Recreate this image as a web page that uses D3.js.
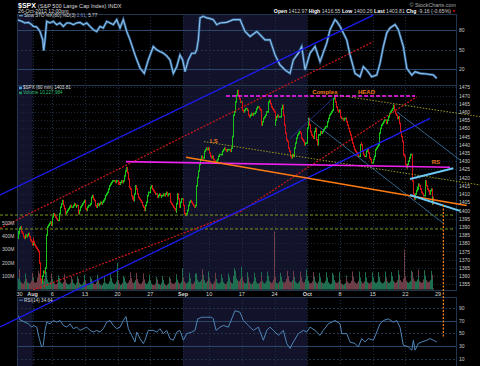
<!DOCTYPE html>
<html>
<head>
<meta charset="utf-8">
<script src="https://cdn.jsdelivr.net/npm/d3@7"></script>
<style>
  body { margin: 0; background: #000; }
  text { font-family: "Liberation Sans", Arial, sans-serif; }
</style>
</head>
<body>
<svg id="chart" width="480" height="366"></svg>
<script>
'use strict'

// ---- data: 60 minute bars, one string of 7 hourly closes per trading day ----
var days = ['Jul 27', 'Jul 30', 'Jul 31', 'Aug 1', 'Aug 2', 'Aug 3', 'Aug 6', 'Aug 7', 'Aug 8', 'Aug 9', 'Aug 10',
  'Aug 13', 'Aug 14', 'Aug 15', 'Aug 16', 'Aug 17', 'Aug 20', 'Aug 21', 'Aug 22', 'Aug 23', 'Aug 24',
  'Aug 27', 'Aug 28', 'Aug 29', 'Aug 30', 'Aug 31', 'Sep 4', 'Sep 5', 'Sep 6', 'Sep 7',
  'Sep 10', 'Sep 11', 'Sep 12', 'Sep 13', 'Sep 14', 'Sep 17', 'Sep 18', 'Sep 19', 'Sep 20', 'Sep 21',
  'Sep 24', 'Sep 25', 'Sep 26', 'Sep 27', 'Sep 28', 'Oct 1', 'Oct 2', 'Oct 3', 'Oct 4', 'Oct 5',
  'Oct 8', 'Oct 9', 'Oct 10', 'Oct 11', 'Oct 12', 'Oct 15', 'Oct 16', 'Oct 17', 'Oct 18', 'Oct 19',
  'Oct 22', 'Oct 23', 'Oct 24', 'Oct 25', 'Oct 26']

var closes = [
  '1366 1372 1378 1380 1383 1387 1386', '1389 1390 1387 1386 1384 1383 1385', '1384 1385 1386 1384 1382 1381 1379',
  '1383 1381 1379 1378 1377 1376 1375', '1368 1358 1356 1360 1363 1362 1365', '1385 1389 1390 1391 1392 1393 1391',
  '1396 1398 1397 1396 1395 1394 1394', '1398 1402 1404 1405 1406 1403 1401', '1398 1399 1400 1401 1402 1403 1402',
  '1402 1403 1404 1403 1402 1403 1403', '1398 1400 1402 1403 1404 1405 1406', '1401 1400 1402 1403 1403 1404 1404',
  '1408 1409 1407 1406 1403 1402 1404', '1403 1404 1405 1404 1405 1406 1406', '1407 1409 1410 1411 1413 1415 1416',
  '1417 1418 1418 1418 1417 1418 1418', '1416 1417 1416 1417 1418 1417 1418', '1421 1424 1426 1423 1419 1414 1413',
  '1409 1407 1408 1406 1410 1415 1413', '1410 1408 1407 1406 1405 1403 1402', '1400 1403 1405 1407 1409 1411 1411',
  '1414 1415 1413 1412 1411 1410 1410', '1408 1409 1410 1409 1408 1409 1409', '1410 1409 1410 1411 1409 1410 1410',
  '1405 1404 1403 1402 1401 1400 1399', '1404 1410 1407 1402 1405 1407 1407', '1403 1398 1397 1398 1400 1403 1405',
  '1405 1406 1405 1404 1403 1402 1403', '1415 1420 1424 1428 1431 1433 1432', '1432 1434 1436 1437 1438 1437 1438',
  '1435 1433 1432 1433 1431 1430 1429', '1430 1431 1432 1433 1434 1434 1434', '1436 1437 1438 1437 1436 1437 1437',
  '1437 1436 1438 1445 1455 1458 1460', '1466 1470 1473 1470 1468 1466 1466', '1461 1460 1461 1462 1462 1461 1461',
  '1458 1457 1458 1459 1458 1459 1459', '1460 1462 1463 1463 1462 1461 1461', '1452 1454 1456 1457 1458 1460 1460',
  '1466 1467 1465 1463 1462 1461 1460', '1452 1455 1457 1458 1457 1457 1457', '1462 1464 1458 1452 1447 1443 1442',
  '1438 1436 1435 1433 1432 1434 1433', '1438 1441 1444 1446 1447 1448 1447', '1444 1443 1442 1441 1440 1441 1441',
  '1450 1456 1452 1448 1446 1445 1444', '1448 1450 1443 1440 1443 1446 1446', '1448 1447 1448 1449 1450 1451 1451',
  '1454 1456 1458 1459 1460 1461 1461', '1468 1470 1466 1463 1461 1460 1461', '1457 1456 1456 1455 1456 1456 1456',
  '1454 1452 1450 1448 1446 1443 1441', '1439 1437 1436 1435 1434 1433 1433', '1440 1441 1440 1436 1434 1433 1433',
  '1436 1437 1435 1432 1431 1429 1429', '1431 1433 1435 1437 1438 1439 1440', '1447 1450 1452 1453 1454 1455 1455',
  '1453 1455 1457 1458 1459 1460 1461', '1462 1464 1461 1459 1458 1456 1457', '1453 1448 1445 1442 1438 1434 1433',
  '1428 1426 1428 1430 1432 1434 1434', '1418 1410 1407 1410 1412 1414 1413', '1416 1415 1413 1411 1410 1409 1409',
  '1418 1415 1413 1412 1410 1412 1413', '1404 1408 1404'
]

// hourly volume, millions
var volumes = [
  '110 70 60 55 60 80 150', '85 60 50 45 45 60 120', '80 55 50 45 50 65 125', '95 65 55 50 55 90 140',
  '120 85 70 60 65 80 150', '130 75 60 55 50 60 120', '80 50 45 40 40 50 105', '85 55 45 40 45 55 115',
  '75 50 40 35 40 50 100', '75 50 40 35 40 50 100', '80 50 40 35 40 55 110', '70 45 35 35 35 50 95',
  '80 55 45 40 40 55 110', '70 45 35 30 35 50 95', '80 50 45 40 45 60 115', '85 55 45 40 45 60 200',
  '70 45 40 35 40 50 100', '90 60 50 45 55 70 130', '85 55 45 45 55 70 125', '80 55 45 40 45 60 120',
  '75 50 40 40 45 60 110', '70 45 35 35 35 45 95', '75 45 40 35 40 50 100', '70 45 35 30 35 45 95',
  '80 50 45 40 45 55 115', '110 75 55 45 45 60 160', '90 60 50 45 50 60 125', '85 55 45 40 45 60 120',
  '120 75 60 55 60 75 150', '110 70 55 50 55 65 135', '85 55 45 40 45 60 125', '80 50 45 40 45 55 115',
  '85 55 45 40 45 60 120', '90 60 50 45 100 95 160', '140 85 70 60 65 80 170', '95 60 50 45 50 65 130',
  '90 55 45 40 45 60 125', '90 55 45 45 50 60 130', '100 65 50 45 50 65 135', '100 65 55 50 55 75 435',
  '95 60 50 45 50 60 125', '95 60 55 50 60 80 140', '100 65 55 50 55 70 140', '95 60 50 45 50 65 135',
  '90 60 50 45 55 75 150', '100 65 50 45 50 60 130', '95 60 50 45 50 60 125', '90 55 50 45 50 65 130',
  '90 55 45 40 45 60 125', '110 70 55 50 50 60 130', '75 45 40 35 40 50 105', '90 60 50 45 50 65 135',
  '95 60 50 45 50 65 135', '90 60 50 45 50 60 130', '90 55 50 45 50 60 130', '90 60 50 45 50 60 130',
  '95 60 50 45 50 60 135', '90 60 50 45 50 60 130', '100 65 55 50 55 70 145', '110 70 60 55 65 80 300',
  '100 65 55 50 55 65 140', '130 85 65 60 60 75 150', '100 65 55 50 55 75 145', '105 70 60 55 60 70 140',
  '110 75 10'
]

// Slow STO %K(80) (day number, value)
var stoDay = [0.62, 1.34, 1.84, 2.35, 2.87, 3.11, 3.63, 4.13, 4.55, 4.70, 4.90, 5.16, 5.66, 6.17, 6.69, 7.19, 7.70,
  8.22, 8.72, 9.23, 9.75, 10.25, 10.76, 11.28, 11.78, 12.28, 12.80, 13.31, 13.81, 14.33, 14.84, 15.34, 15.86, 16.37,
  16.87, 17.39, 17.90, 18.66, 19.42, 20.08, 20.69, 21.46, 21.98, 22.48, 22.99, 23.51, 24.01, 24.52, 25.04, 25.54,
  25.95, 26.31, 26.81, 27.33, 27.83, 28.09, 28.34, 28.60, 29.10, 29.62, 30.13, 30.63, 31.15, 31.66, 32.68, 33.69,
  34.72, 35.48, 36.25, 37.27, 37.77, 38.54, 39.30, 40.07, 40.83, 41.60, 42.36, 42.87, 43.63, 44.15, 44.66, 45.42,
  46.19, 46.95, 47.97, 48.48, 49.24, 49.50, 50.01, 50.51, 51.03, 51.53, 52.30, 53.06, 53.57, 54.09, 54.85, 55.62,
  56.12, 56.63, 57.15, 57.65, 58.42, 58.92, 59.69, 60.21, 60.98, 61.48, 62.25, 63.27, 64.29, 64.79]
var stoVal = [95.8, 93.2, 90.8, 91.7, 88.2, 85.5, 84.6, 77.8, 65, 48.6, 65, 93.2, 90.8, 93.2, 88.2, 90.8, 85.5,
  90.8, 90.8, 88.2, 90.8, 91.7, 88.2, 90.8, 85.5, 80.5, 77.8, 85.5, 83.1, 93.2, 90.8, 88.2, 95.8, 83.1,
  95.8, 77.8, 65, 42, 22, 13.8, 34.3, 54.8, 49.7, 47.1, 44.6, 40.5, 34.3, 13.8, 24, 42,
  34.3, 16.3, 34.3, 44.6, 44.6, 49.7, 65, 98.5, 100.9, 98.5, 97.4, 95.8, 88.2, 90.8, 91.7, 95.8,
  95.8, 77.8, 70.2, 77.8, 72.8, 65, 65, 42, 26.6, 19, 13.8, 34.3, 44.6, 54.8, 18.9, 44.6,
  54.8, 31.7, 60, 80.5, 95.8, 93.2, 85.5, 75.4, 65, 42, 13.8, 8.6, 24, 18.9, 8.6, 11.2,
  29.2, 54.8, 75.4, 83.1, 88.2, 80.5, 54.8, 21.5, 11.2, 16.3, 13.8, 12.8, 11.2, 6.2]

// RSI(14)
var rsiDay = [0.82, 1.08, 1.84, 2.35, 2.87, 3.11, 3.63, 4.03, 4.39, 4.64, 4.90, 5.16, 5.66, 6.17, 6.69, 7.19, 7.70,
  8.22, 8.72, 9.23, 9.75, 10.25, 10.76, 11.28, 11.78, 12.28, 12.80, 13.31, 13.81, 14.33, 14.84, 15.34, 15.86, 16.37,
  16.87, 17.28, 17.64, 18.16, 18.66, 18.92, 19.42, 19.93, 20.19, 20.69, 21.46, 21.98, 22.48, 22.99, 23.51, 24.01,
  24.52, 25.04, 25.54, 26.05, 26.57, 27.33, 27.83, 28.25, 28.86, 29.62, 30.39, 30.63, 31.05, 31.66, 32.16, 32.93,
  33.45, 33.95, 34.72, 35.22, 35.98, 36.75, 37.51, 38.28, 38.80, 39.30, 39.81, 40.57, 41.34, 41.86, 42.36, 42.87,
  43.63, 44.40, 44.92, 45.42, 46.19, 46.95, 47.45, 48.22, 49.24, 50.01, 50.27, 51.03, 51.53, 52.30, 52.80, 53.32,
  53.83, 54.33, 55.10, 55.62, 56.12, 56.63, 57.39, 58.16, 58.67, 59.17, 59.69, 60.45, 60.98, 61.22, 61.48, 61.98,
  62.50, 63.27, 63.77, 64.29, 64.79]
var rsiVal = [77.7, 71.1, 67.4, 64.9, 59.7, 62.3, 59.7, 41.8, 28.9, 31.5, 54.6, 67.4, 64.9, 70, 67.4, 70, 62.3,
  59.7, 64.9, 57.2, 59.7, 54.6, 57.2, 59.7, 54.6, 52, 54.6, 52, 57.2, 67.4, 70, 62.3, 57.2, 59.7,
  70, 76.2, 57.2, 46.9, 36.6, 52, 41.8, 34.1, 39.2, 54.6, 54.6, 52, 57.2, 49.5, 54.6, 41.8,
  39.2, 52, 54.6, 39.2, 49.5, 52, 54.6, 72.6, 75.1, 75.1, 75.1, 72.6, 54.6, 59.7, 62.3, 59.7,
  72.6, 85.4, 82.8, 70, 62.3, 54.6, 59.7, 39.2, 54.6, 59.7, 54.6, 46.9, 54.6, 34.1, 26.5, 36.6,
  49.5, 54.6, 52, 59.7, 54.6, 46.9, 54.6, 64.9, 70, 64.9, 49.5, 49.5, 36.6, 34.1, 28.9, 41.8,
  36.6, 41.8, 39.2, 52, 64.9, 70, 72.6, 67.4, 70, 59.7, 31.5, 28.9, 23.8, 39.2, 23.8, 34.1,
  36.6, 39.2, 41.8, 39.2, 36.6]

// x axis labels and the day they sit on
var tickLabels = ['30', 'Aug', '6', '13', '20', '27', 'Sep', '10', '17', '24', 'Oct', '8', '15', '22', '29']
var tickDays = [1, 3, 6, 11, 16, 21, 26, 30, 35, 40, 45, 50, 55, 60, 65]
var monthLabels = ['Aug', 'Sep', 'Oct']
var priceTicks = d3.range(1355, 1476, 5)
var stoTicks = [20, 50, 80]
var rsiTicks = [10, 30, 50, 70, 90]
// shaded months (July, September) as day ranges
var shadedMonths = [[0, 3], [26, 45]]

// hand drawn annotations, [day, price] end points
var blueUpper = [[-1.98, 1409.4], [55.1, 1519.0]]
var blueLower = [[-1.98, 1329.0], [63.77, 1456.1]]
var redUpper = [[-1.98, 1389.1], [55.1, 1502.8]]
var redLowerA = [[3.11, 1351.5], [34.72, 1399.2]]
var redLowerB = [[34.72, 1399.2], [61.73, 1469.3]]
var neckline = [[17.29, 1429.7], [66.83, 1426.3]]
var headLine = [[32.58, 1469.7], [61.48, 1469.7]]
var orangeLine = [[26.46, 1432.4], [69.38, 1403.0]]
var wedgeTop = [[60.71, 1419.1], [67.33, 1425.7]]
var wedgeBottom = [[60.71, 1409.4], [68.35, 1399.7]]
var thinBlueA = [[45.14, 1456.1], [65.8, 1392.2]]
var thinBlueB = [[58.67, 1460.1], [68.35, 1430.7]]
var navyRise = [[42.36, 1443.9], [49.5, 1470.3]]
var oliveUpper = [[49.5, 1470.3], [71.41, 1457.1]]
var oliveLower = [[29.21, 1441.9], [71.41, 1415.5]]
var greenLevels = [1397.2, 1388.7]
var greenSpan = [-1.98, 67.6]
var targetLine = [[65.8, 1403.3], [65.8, 1322.3]]
var patternLabels = [['Complex', 45.74, 1471.2], ['HEAD', 52.76, 1471.2], ['LS', 30.13, 1441.3], ['RS', 64.03, 1428.5]]

// ---- layout ----
var svg = d3.select('#chart')
var left = 17
var right = 456
var stoPane = [14, 85]
var mainPane = [85, 290]
var rsiPane = [297, 366]

var x = d3.scaleLinear().domain([1, 65]).range([19.5, 438.1])
var y = d3.scaleLinear().domain([1355, 1475]).range([284.3, 87.3])
var yVol = d3.scaleLinear().domain([0, 500]).range([289.5, 222.7])
var ySto = d3.scaleLinear().domain([20, 80]).range([69.3, 30])
var yRsi = d3.scaleLinear().domain([10, 90]).range([359, 307.7])

var bars = []
closes.forEach(function (s, d) {
  var cs = s.split(' ').map(Number)
  var vs = volumes[d].split(' ').map(Number)
  cs.forEach(function (c, i) {
    var o = bars.length ? bars[bars.length - 1].c : c - 2
    bars.push({ t: d + (i + 0.5) / 7, o: o, c: c, v: vs[i] })
  })
})
bars = bars.filter(function (b) { return x(b.t) >= left + 0.5 })

// pane backgrounds and month shading
var panes = [stoPane, mainPane, rsiPane]
panes.forEach(function (p) {
  svg.append('g').selectAll('rect').data(shadedMonths).join('rect')
    .attr('x', function (m) { return Math.max(left, x(m[0])) })
    .attr('width', function (m) { return x(m[1]) - Math.max(left, x(m[0])) })
    .attr('y', p[0]).attr('height', p[1] - p[0])
    .attr('fill', '#12122a')
})

// vertical grid
panes.forEach(function (p) {
  svg.append('g').selectAll('line').data(tickDays.slice(1, -1)).join('line')
    .attr('x1', function (d) { return Math.round(x(d)) + 0.5 }).attr('x2', function (d) { return Math.round(x(d)) + 0.5 })
    .attr('y1', p[0]).attr('y2', p[1])
    .attr('stroke', '#1e2e44').attr('stroke-dasharray', '1,2')
})

// horizontal grid
svg.append('g').selectAll('line').data(priceTicks).join('line')
  .attr('x1', left).attr('x2', right)
  .attr('y1', function (d) { return Math.round(y(d)) + 0.5 }).attr('y2', function (d) { return Math.round(y(d)) + 0.5 })
  .attr('stroke', '#1a283a').attr('stroke-dasharray', '1,2')
svg.append('g').selectAll('line').data(stoTicks).join('line')
  .attr('x1', left).attr('x2', right)
  .attr('y1', function (d) { return Math.round(ySto(d)) + 0.5 }).attr('y2', function (d) { return Math.round(ySto(d)) + 0.5 })
  .attr('stroke', function (d) { return d === 50 ? '#22344c' : '#2a4668' })
  .attr('stroke-dasharray', function (d) { return d === 50 ? '2,2' : null })
svg.append('g').selectAll('line').data(rsiTicks).join('line')
  .attr('x1', left).attr('x2', right)
  .attr('y1', function (d) { return Math.round(yRsi(d)) + 0.5 }).attr('y2', function (d) { return Math.round(yRsi(d)) + 0.5 })
  .attr('stroke', function (d) { return d === 30 || d === 70 ? '#2a4668' : '#22344c' })
  .attr('stroke-dasharray', function (d) { return d === 30 || d === 70 ? null : '2,2' })

// volume
svg.append('g').selectAll('rect').data(bars).join('rect')
  .attr('x', function (b) { return Math.floor(x(b.t)) })
  .attr('width', 1)
  .attr('y', function (b) { return yVol(b.v) })
  .attr('height', function (b) { return yVol(0) - yVol(b.v) })
  .attr('fill', function (b) { return b.c >= b.o ? '#1f6e50' : '#6e3e48' })

// candles
svg.append('g').selectAll('rect').data(bars).join('rect')
  .attr('x', function (b) { return Math.floor(x(b.t)) })
  .attr('width', 1)
  .attr('y', function (b) { return y(Math.max(b.o, b.c)) - 0.8 })
  .attr('height', function (b) { return Math.max(1.6, Math.abs(y(b.o) - y(b.c)) + 1.6) })
  .attr('fill', function (b) { return b.c >= b.o ? '#19c419' : '#d41414' })

// indicator lines
var stoLine = d3.line().x(function (d) { return x(d[0]) }).y(function (d) { return ySto(d[1]) })
svg.append('path').datum(d3.zip(stoDay, stoVal)).attr('d', stoLine)
  .attr('fill', 'none').attr('stroke', '#2d5a86').attr('stroke-width', 2.6)
svg.append('path').datum(d3.zip(stoDay, stoVal)).attr('d', stoLine)
  .attr('fill', 'none').attr('stroke', '#8cc0ec').attr('stroke-width', 1.1)
var rsiLine = d3.line().x(function (d) { return x(d[0]) }).y(function (d) { return yRsi(d[1]) })
svg.append('path').datum(d3.zip(rsiDay, rsiVal)).attr('d', rsiLine)
  .attr('fill', 'none').attr('stroke', '#4f86b8').attr('stroke-width', 1)

// pane frames
panes.forEach(function (p) {
  svg.append('rect').attr('x', left + 0.5).attr('y', p[0] + 0.5)
    .attr('width', right - left).attr('height', p[1] - p[0])
    .attr('fill', 'none').attr('stroke', '#20364f')
})

// annotations
var seg = d3.line().x(function (d) { return x(d[0]) }).y(function (d) { return y(d[1]) })
function trend (pts, color, w, dash) {
  svg.append('path').datum(pts).attr('d', seg)
    .attr('fill', 'none').attr('stroke', color).attr('stroke-width', w)
    .attr('stroke-dasharray', dash)
}
greenLevels.forEach(function (p) { trend([[greenSpan[0], p], [greenSpan[1], p]], '#7a9a1e', 1, '3,2') })
trend(oliveUpper, '#9a9a22', 1, '1.5,1.5')
trend(oliveLower, '#9a9a22', 1, '1.5,1.5')
trend(thinBlueA, '#3d7fae', 0.8)
trend(thinBlueB, '#3d7fae', 0.8)
trend(navyRise, '#2a3aa0', 0.8)
trend(redUpper, '#d01818', 1.2, '2,1.5')
trend(redLowerA, '#d01818', 1.2, '2,1.5')
trend(redLowerB, '#d01818', 1.2, '2,1.5')
trend(blueUpper, '#1c1cf0', 1.4)
trend(blueLower, '#1c1cf0', 1.4)
trend(neckline, '#ee22ee', 1.6)
trend(headLine, '#ff22ff', 1.6, '4,2')
trend(orangeLine, '#ff7a10', 1.6)
trend(wedgeTop, '#6cc8f4', 2)
trend(wedgeBottom, '#6cc8f4', 2)
trend(targetLine, '#ff8a1a', 1.2, '2,1.5')

svg.append('g').selectAll('text').data(patternLabels).join('text')
  .attr('x', function (d) { return x(d[1]) }).attr('y', function (d) { return y(d[2]) })
  .attr('fill', '#f07a20').attr('font-size', 6).attr('font-weight', 'bold')
  .text(function (d) { return d[0] })

// right axes
function rightAxis (scale, ticks) {
  var g = svg.append('g').attr('transform', 'translate(458,0)')
    .call(d3.axisRight(scale).tickValues(ticks).tickSize(0).tickPadding(1).tickFormat(d3.format('d')))
  g.select('.domain').remove()
  g.selectAll('text').attr('fill', '#c8c8c8').attr('font-size', 5).attr('font-family', '"Liberation Sans", Arial, sans-serif')
}
rightAxis(y, priceTicks)
rightAxis(ySto, stoTicks)
rightAxis(yRsi, rsiTicks)

// volume axis on the left
svg.append('g').selectAll('text').data([100, 200, 300, 400, 500]).join('text')
  .attr('x', 2).attr('y', function (d) { return yVol(d) + 1.8 })
  .attr('fill', '#c8c8c8').attr('font-size', 5)
  .text(function (d) { return d + 'M' })

// time axis
svg.append('g').selectAll('text').data(tickLabels).join('text')
  .attr('x', function (d, i) { return x(tickDays[i]) }).attr('y', 296)
  .attr('text-anchor', 'middle').attr('fill', '#d8d8d8').attr('font-size', 5.5)
  .attr('font-weight', function (d) { return monthLabels.indexOf(d) >= 0 ? 'bold' : null })
  .text(function (d) { return d })

// titles and legends
var head = svg.append('text').attr('x', 18).attr('y', 7.5).attr('fill', '#fff').attr('font-size', 7)
head.append('tspan').attr('font-weight', 'bold').text('$SPX ')
head.append('tspan').attr('font-size', 5.6).attr('fill', '#ddd').text('(S&P 500 Large Cap Index) INDX')
svg.append('text').attr('x', 18).attr('y', 12.6).attr('fill', '#ddd').attr('font-size', 5.2).text('26-Oct-2012 12:00pm')
svg.append('text').attr('x', 456).attr('y', 7.3).attr('text-anchor', 'end').attr('fill', '#aaa').attr('font-size', 5.4).text('\u00a9 StockCharts.com')

var quote = svg.append('text').attr('x', 451).attr('y', 12.6).attr('text-anchor', 'end').attr('font-size', 5.2).attr('fill', '#ccc')
;[['Open', '1412.97'], ['High', '1416.55'], ['Low', '1400.26'], ['Last', '1403.81'], ['Chg', '-9.16 (-0.65%)']].forEach(function (q, i) {
  quote.append('tspan').attr('font-weight', 'bold').attr('fill', '#fff').text((i ? '  ' : '') + q[0] + ' ')
  quote.append('tspan').text(q[1])
})
svg.append('path').attr('d', 'M452.5,10.2h3l-1.5,2.2z').attr('fill', '#e01010')

svg.append('line').attr('x1', 19).attr('x2', 23).attr('y1', 15.8).attr('y2', 15.8).attr('stroke', '#8cc0ec').attr('stroke-width', 1)
var sto = svg.append('text').attr('x', 24).attr('y', 17.2).attr('font-size', 4.6).attr('fill', '#ddd')
sto.append('tspan').text('Slow STO %K(80),%D(3) ')
sto.append('tspan').attr('fill', '#7a8ac8').text('2.61')
sto.append('tspan').text(', 5.77')

svg.append('rect').attr('x', 19).attr('y', 86.6).attr('width', 3).attr('height', 2.6).attr('fill', '#4aa0e0')
svg.append('text').attr('x', 23).attr('y', 89.2).attr('font-size', 4.6).attr('fill', '#ddd').text('$SPX (60 min) 1403.81')
svg.append('rect').attr('x', 19).attr('y', 91.6).attr('width', 3).attr('height', 2.6).attr('fill', '#1f8a5a')
svg.append('text').attr('x', 23).attr('y', 94.2).attr('font-size', 4.6).attr('fill', '#2fbf70').text('Volume 10,227,984')

svg.append('line').attr('x1', 19).attr('x2', 23).attr('y1', 300.2).attr('y2', 300.2).attr('stroke', '#4f86b8')
svg.append('text').attr('x', 24).attr('y', 301.8).attr('font-size', 4.6).attr('fill', '#ddd').text('RSI(14) 34.64')
</script>
</body>
</html>
